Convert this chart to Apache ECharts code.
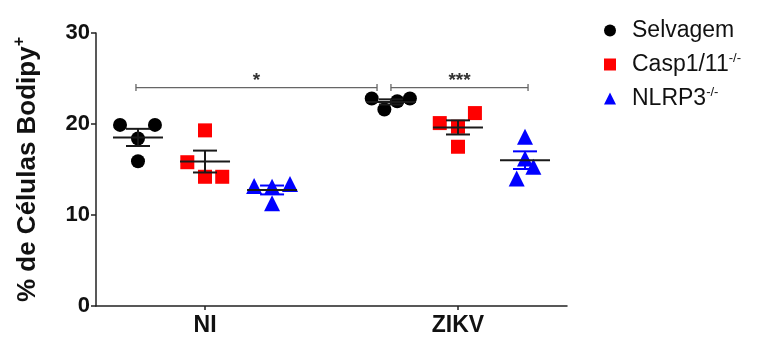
<!DOCTYPE html>
<html>
<head>
<meta charset="utf-8">
<script src="https://cdn.jsdelivr.net/npm/echarts@6/dist/echarts.min.js"></script>
<style>
html,body{margin:0;padding:0;background:#fff;}
#chart{width:766px;height:338px;}
</style>
</head>
<body>
<div id="chart"></div>
<script>
// ---- data ----
const categories = ['NI', 'ZIKV'];
const seriesNames = ['Selvagem', 'Casp1/11', 'NLRP3'];
const selvagem = [[19.9, 19.9, 18.4, 15.9], [22.8, 21.6, 22.5, 22.8]];
const casp = [[19.3, 15.8, 14.2, 14.2], [20.1, 19.7, 21.2, 17.5]];
const nlrp3 = [[13.2, 13.1, 13.4, 11.3], [18.6, 16.2, 15.3, 14.0]];
// horizontal scatter of the points within each group (axis units)
const selvagemJitter = [[-0.071, 0.067, 0, 0], [-0.076, -0.026, 0.025, 0.075]];
const caspJitter = [[0, -0.07, 0, 0.068], [-0.072, 0, 0.067, 0]];
const nlrp3Jitter = [[-0.071, 0, 0.071, 0], [0, 0, 0.033, -0.033]];
const yTicks = [0, 10, 20, 30];
// significance brackets: [x start, x end, y, label]
const brackets = [[0.227, 1.18, 24.0, '*'], [1.235, 1.777, 24.0, '***']];

// ---- layout ----
const groupCenter = [0.5, 1.5];
const seriesOffset = [-0.265, 0, 0.265];
const colors = ['#000000', '#ff0000', '#0000ff'];
const symbols = ['circle', 'rect', 'triangle'];
const capColors = ['#1a1a1a', '#1a1a1a', '#0000ff'];
const allVals = [selvagem, casp, nlrp3];
const allJit = [selvagemJitter, caspJitter, nlrp3Jitter];
const FF = '"Liberation Sans", Arial, sans-serif';

function meanSem(a) {
  const n = a.length;
  const m = a.reduce((s, v) => s + v, 0) / n;
  const sd = Math.sqrt(a.reduce((s, v) => s + (v - m) * (v - m), 0) / (n - 1));
  return [m, sd / Math.sqrt(n)];
}

const series = [];
seriesNames.forEach((name, si) => {
  const pts = [];
  categories.forEach((c, gi) => {
    allVals[si][gi].forEach((v, k) => {
      pts.push([groupCenter[gi] + seriesOffset[si] + allJit[si][gi][k], v]);
    });
  });
  series.push({
    name: name,
    type: 'scatter',
    data: pts,
    symbol: symbols[si],
    symbolSize: si === 2 ? 16 : 14,
    itemStyle: { color: colors[si], opacity: 1 },
    z: 3
  });
});

// mean + SEM
const statData = [];
seriesNames.forEach((name, si) => {
  categories.forEach((c, gi) => {
    const ms = meanSem(allVals[si][gi]);
    statData.push([groupCenter[gi] + seriesOffset[si], ms[0], ms[1], si]);
  });
});
series.push({
  type: 'custom',
  silent: true,
  z: 4,
  data: statData,
  renderItem: function (params, api) {
    const x = api.value(0), m = api.value(1), s = api.value(2), si = api.value(3);
    const pm = api.coord([x, m]);
    const pt = api.coord([x, m + s]);
    const pb = api.coord([x, m - s]);
    const cc = capColors[si];
    return {
      type: 'group',
      children: [
        { type: 'line', shape: { x1: pt[0], y1: pt[1], x2: pb[0], y2: pb[1] }, style: { stroke: cc, lineWidth: 2 } },
        { type: 'line', shape: { x1: pt[0] - 12, y1: pt[1], x2: pt[0] + 12, y2: pt[1] }, style: { stroke: cc, lineWidth: 2 } },
        { type: 'line', shape: { x1: pb[0] - 12, y1: pb[1], x2: pb[0] + 12, y2: pb[1] }, style: { stroke: cc, lineWidth: 2 } },
        { type: 'line', shape: { x1: pm[0] - 25, y1: pm[1], x2: pm[0] + 25, y2: pm[1] }, style: { stroke: '#1a1a1a', lineWidth: 2 } }
      ]
    };
  }
});

// brackets
series.push({
  type: 'custom',
  silent: true,
  z: 2,
  data: brackets.map(b => [b[0], b[1], b[2]]),
  renderItem: function (params, api) {
    const p1 = api.coord([api.value(0), api.value(2)]);
    const p2 = api.coord([api.value(1), api.value(2)]);
    const lab = brackets[params.dataIndex][3];
    const st = { stroke: '#666', lineWidth: 1.3 };
    return {
      type: 'group',
      children: [
        { type: 'line', shape: { x1: p1[0], y1: p1[1], x2: p2[0], y2: p2[1] }, style: st },
        { type: 'line', shape: { x1: p1[0], y1: p1[1] - 3.5, x2: p1[0], y2: p1[1] + 3.5 }, style: st },
        { type: 'line', shape: { x1: p2[0], y1: p2[1] - 3.5, x2: p2[0], y2: p2[1] + 3.5 }, style: st },
        { type: 'text', x: (p1[0] + p2[0]) / 2, y: p1[1] + 3,
          style: { text: lab, fill: '#333', font: 'bold 19px "Liberation Sans", Arial', textAlign: 'center', textVerticalAlign: 'bottom' } }
      ]
    };
  }
});

const chart = echarts.init(document.getElementById('chart'), null, { renderer: 'canvas' });
chart.setOption({
  animation: false,
  backgroundColor: '#fff',
  textStyle: { fontFamily: FF },
  grid: { left: 96, right: 199, top: 33, bottom: 32, containLabel: false },
  legend: {
    orient: 'vertical',
    left: 599,
    top: 14,
    itemGap: 10,
    itemWidth: 12,
    itemHeight: 12,
    data: seriesNames.map((n, i) => ({ name: n, icon: symbols[i] })),
    formatter: function (n) {
      if (n === 'Selvagem') return '{t|Selvagem}';
      return '{t|' + n + '}{s|-/-}';
    },
    textStyle: {
      rich: {
        t: { fontSize: 23, color: '#111', padding: [0, 0, 0, 11], fontFamily: FF },
        s: { fontSize: 13, color: '#111', verticalAlign: 'top', padding: [0, 0, 12, 0], fontFamily: FF }
      }
    }
  },
  xAxis: {
    type: 'value',
    min: 0.069,
    max: 1.931,
    axisLine: { lineStyle: { color: '#222', width: 1.5 } },
    splitLine: { show: false },
    axisTick: { customValues: groupCenter, length: 4, lineStyle: { color: '#222', width: 1.5 } },
    axisLabel: {
      customValues: groupCenter,
      formatter: function (v) { return categories[Math.round(v - 0.5)]; },
      fontSize: 23, fontWeight: 'bold', color: '#111', margin: 8,
      fontFamily: FF
    }
  },
  yAxis: {
    type: 'value',
    min: 0,
    max: 30,
    interval: 10,
    axisLine: { show: true, lineStyle: { color: '#222', width: 1.5 } },
    splitLine: { show: false },
    axisTick: { show: true, length: 5, lineStyle: { color: '#222', width: 1.5 } },
    axisLabel: {
      customValues: yTicks,
      fontSize: 22, fontWeight: 'bold', color: '#111', margin: 6,
      fontFamily: FF
    },
    name: '{a|% de Células Bodipy}{b|+}',
    nameLocation: 'middle',
    nameGap: 52,
    nameRotate: 90,
    nameTextStyle: {
      rich: {
        a: { fontSize: 26, fontWeight: 'bold', color: '#111', fontFamily: FF },
        b: { fontSize: 16, fontWeight: 'bold', color: '#111', verticalAlign: 'top', padding: [0, 0, 16, 0], fontFamily: FF }
      }
    }
  },
  series: series
});
</script>
</body>
</html>
